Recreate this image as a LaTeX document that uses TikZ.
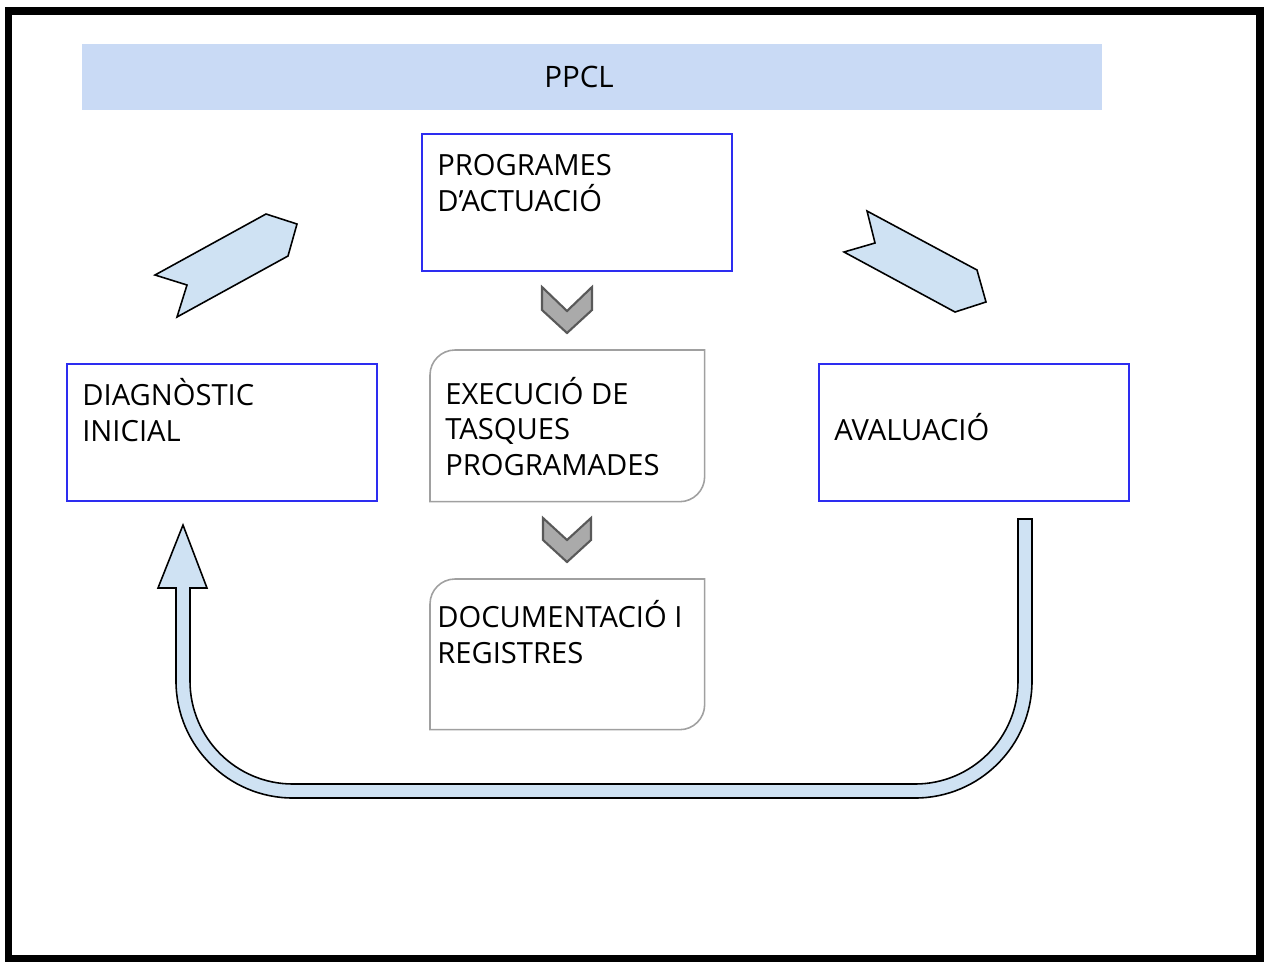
\documentclass[tikz,border=0pt]{standalone}
\usepackage{fontspec}
\setmainfont{Open Sans}
\definecolor{boxblue}{RGB}{45,45,240}
\definecolor{barblue}{RGB}{201,218,245}
\definecolor{arrowblue}{RGB}{207,226,243}
\definecolor{chevgray}{RGB}{170,170,170}
\definecolor{edgegray}{RGB}{160,160,160}

\begin{document}
\begin{tikzpicture}[x=.02cm,y=-.02cm,
		bluebox/.style={draw=boxblue,line width=.9pt,minimum width=6.2cm,minimum height=2.74cm,anchor=north west,inner sep=0},
		roundbox/.style={minimum width=5.48cm,anchor=north west,inner sep=0},
		roundedge/.style={draw=edgegray,line width=.9pt},
		boxtext/.style={anchor=base west,align=left,inner sep=0,font=\fontsize{16.6}{20.2}\selectfont},
		blockarrow/.style={draw=black,fill=arrowblue,line width=.9pt},
		chevron/.style={draw=black!65,fill=chevgray,line width=1.2pt}]

		\useasboundingbox (0,0) rectangle (1270,961);
		\draw[line width=4.5pt] (8.5,11) rectangle (1260,959);

		\node[fill=barblue,minimum width=20.4cm,minimum height=1.32cm,anchor=north west,inner sep=0] (ppcl) at (82,44) {};
		\node[font=\fontsize{16.8}{20}\selectfont] (ppcltxt) at (579,77) {PPCL};

		\node[bluebox] (prog) at (421,133) {};
		\node[boxtext] (progtxt) at (437,211) {PROGRAMES\\D’ACTUACIÓ};

		\node[bluebox] (diag) at (66,363) {};
		\node[boxtext] (diagtxt) at (82,441) {DIAGNÒSTIC\\INICIAL};

		\node[bluebox] (aval) at (818,363) {};
		\node[boxtext] (avaltxt) at (834,440) {AVALUACIÓ};

		\node[roundbox,minimum height=3.02cm] (exec) at (430,350) {};
		\draw[roundedge] (exec.west) [rounded corners=.5cm] -- (exec.north west) -- (exec.north) [sharp corners] -- (exec.north east) -- (exec.east) [rounded corners=.5cm] -- (exec.south east) -- (exec.south) [sharp corners] -- (exec.south west) -- cycle;
		\node[boxtext] (exectxt) at (445,475) {EXECUCIÓ DE\\TASQUES\\PROGRAMADES};

		\node[roundbox,minimum height=3cm] (docu) at (430,579) {};
		\draw[roundedge] (docu.west) [rounded corners=.5cm] -- (docu.north west) -- (docu.north) [sharp corners] -- (docu.north east) -- (docu.east) [rounded corners=.5cm] -- (docu.south east) -- (docu.south) [sharp corners] -- (docu.south west) -- cycle;
		\node[boxtext] (docutxt) at (437,663) {DOCUMENTACIÓ I\\REGISTRES};

		\draw[chevron] (542,287) -- (542,310) -- (567,333) -- (592,310) -- (592,287) -- (567,311) -- cycle;
		\draw[chevron] (543,518) -- (543,540) -- (567,562) -- (591,540) -- (591,518) -- (567,540) -- cycle;

		\draw[blockarrow] (155,275) -- (266,214) -- (297,224) -- (288,256) -- (177,317) -- (187,285) -- cycle;
		\draw[blockarrow] (867,211) -- (977,270) -- (986,302) -- (955,312) -- (844,252) -- (875,243) -- cycle;

		\draw[blockarrow] (1032,519) [rounded corners=2.34cm] -- (1032,798) -- (176,798) [sharp corners] -- (176,588) -- (158,588) -- (183,525) -- (207,588) -- (190,588) [rounded corners=2.06cm] -- (190,784) -- (1018,784) [sharp corners] -- (1018,519) -- cycle;
	\end{tikzpicture}
\end{document}
